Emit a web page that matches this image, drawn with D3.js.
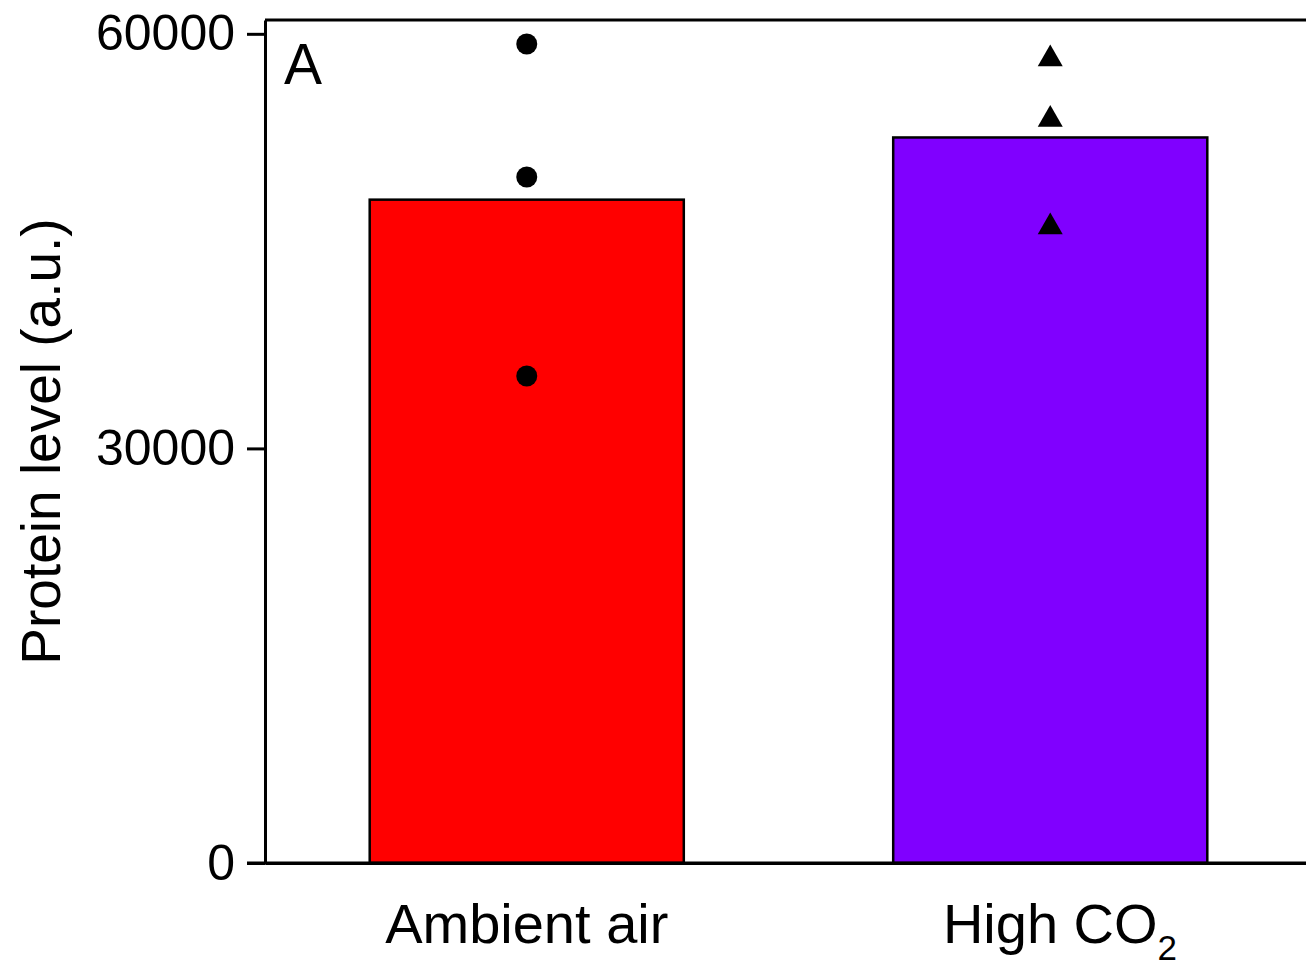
<!DOCTYPE html>
<html>
<head>
<meta charset="utf-8">
<script src="https://cdnjs.cloudflare.com/ajax/libs/d3/7.8.5/d3.min.js"></script>
<style>
  body { margin: 0; background: #fff; }
  svg { display: block; font-family: "Liberation Sans", Arial, sans-serif; }
</style>
</head>
<body>
<script>
// data
var groups = ["Ambient air", "High CO2"];
var barMeans = [48000, 52500];
var barColors = ["#ff0000", "#8000ff"];
var ambientPoints = [59260, 49640, 35240];
var co2Points = [58320, 53950, 46170];
var yTicks = [0, 30000, 60000];

var W = 1306, H = 965;
var plotLeft = 265, plotTop = 20, plotBottom = 863, plotRight = 1312;

var svg = d3.select("body").append("svg")
    .attr("width", W)
    .attr("height", H);

var x = d3.scaleBand()
    .domain(groups)
    .range([plotLeft, plotRight])
    .paddingInner(0.4)
    .paddingOuter(0.2);

var y = d3.scaleLinear()
    .domain([0, 61000])
    .range([plotBottom, plotTop]);

// bars
svg.selectAll(".bar")
    .data(groups)
    .enter()
    .append("rect")
    .attr("class", "bar")
    .attr("x", function(d) { return x(d); })
    .attr("y", function(d, i) { return y(barMeans[i]); })
    .attr("width", x.bandwidth())
    .attr("height", function(d, i) { return y(0) - y(barMeans[i]); })
    .attr("fill", function(d, i) { return barColors[i]; })
    .attr("stroke", "#000")
    .attr("stroke-width", 2.5);

// individual points
var cx0 = x(groups[0]) + x.bandwidth() / 2;
var cx1 = x(groups[1]) + x.bandwidth() / 2;

svg.selectAll(".dot")
    .data(ambientPoints)
    .enter()
    .append("circle")
    .attr("class", "dot")
    .attr("cx", cx0)
    .attr("cy", function(d) { return y(d); })
    .attr("r", 10.5)
    .attr("fill", "#000");

var tri = d3.symbol().type(d3.symbolTriangle).size(270);
svg.selectAll(".tri")
    .data(co2Points)
    .enter()
    .append("path")
    .attr("class", "tri")
    .attr("d", tri)
    .attr("transform", function(d) { return "translate(" + cx1 + "," + (y(d) + 2) + ")"; })
    .attr("fill", "#000");

// frame: top line
svg.append("line")
    .attr("x1", plotLeft).attr("x2", plotRight)
    .attr("y1", plotTop).attr("y2", plotTop)
    .attr("stroke", "#000")
    .attr("stroke-width", 3);

// y axis
var yAxis = svg.append("g")
    .attr("transform", "translate(" + plotLeft + ",0)")
    .call(d3.axisLeft(y).tickValues(yTicks).tickFormat(d3.format("d"))
        .tickSize(18).tickPadding(12).tickSizeOuter(0));
yAxis.select(".domain").attr("stroke-width", 3);
yAxis.selectAll(".tick line").attr("stroke-width", 3);
yAxis.selectAll(".tick text").attr("font-size", 50).attr("fill", "#000")
    .attr("font-family", "Liberation Sans, Arial, sans-serif");

// x axis
var xAxis = svg.append("g")
    .attr("transform", "translate(0," + plotBottom + ")")
    .call(d3.axisBottom(x).tickSize(0).tickPadding(40).tickSizeOuter(0));
xAxis.select(".domain").attr("stroke-width", 3);
xAxis.selectAll(".tick text").attr("font-size", 56).attr("fill", "#000")
    .attr("font-family", "Liberation Sans, Arial, sans-serif");

// bottom line runs left into the 0 tick
svg.append("line")
    .attr("x1", plotLeft - 18).attr("x2", plotRight)
    .attr("y1", plotBottom).attr("y2", plotBottom)
    .attr("stroke", "#000")
    .attr("stroke-width", 3);

// subscript for CO2
xAxis.selectAll(".tick text")
    .filter(function(d) { return d === "High CO2"; })
    .each(function() {
        var t = d3.select(this).text("");
        t.append("tspan").text("High CO");
        var sub = t.append("tspan").attr("font-size", 35).attr("dy", 17).text("2");
        var w = sub.node().getComputedTextLength();
        t.attr("dx", w / 2);
    });

// y label
svg.append("text")
    .attr("transform", "translate(60," + ((plotTop + plotBottom) / 2) + ") rotate(-90)")
    .attr("text-anchor", "middle")
    .attr("font-size", 55)
    .text("Protein level (a.u.)");

// panel letter
svg.append("text")
    .attr("x", 284)
    .attr("y", 84)
    .attr("font-size", 57)
    .text("A");
</script>
</body>
</html>
